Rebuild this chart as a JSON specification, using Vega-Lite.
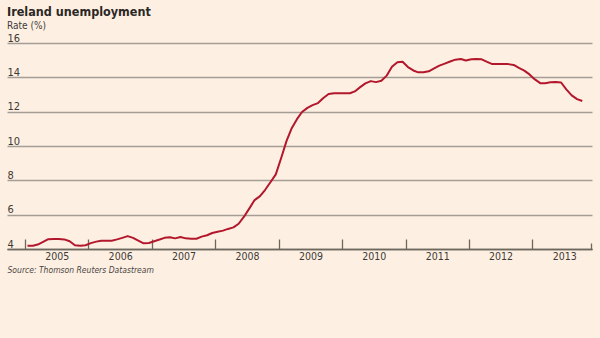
{
  "$schema": "https://vega.github.io/schema/vega-lite/v6.json",
  "width": 585,
  "height": 206,
  "autosize": {"type": "none"},
  "padding": {"left": 7, "top": 43, "right": 8, "bottom": 89},
  "background": "#fdf0e2",
  "title": {
    "text": "Ireland unemployment",
    "subtitle": "Rate (%)",
    "anchor": "start",
    "frame": "group",
    "offset": 1,
    "font": "DejaVu Sans Condensed, Liberation Sans, sans-serif",
    "fontSize": 12.5,
    "fontWeight": "bold",
    "color": "#2b2725",
    "subtitleFont": "DejaVu Sans Condensed, Liberation Sans, sans-serif",
    "subtitleFontSize": 10,
    "subtitleColor": "#3e3a37",
    "subtitlePadding": 3
  },
  "config": {
    "view": {"stroke": null},
    "axis": {"labelFont": "DejaVu Sans Condensed, Liberation Sans, sans-serif", "titleFont": "DejaVu Sans Condensed, Liberation Sans, sans-serif"}
  },
  "data": {
    "values": [
      {"date": "2005-01-15", "rate": 4.19}, {"date": "2005-02-15", "rate": 4.19}, {"date": "2005-03-15", "rate": 4.26}, {"date": "2005-04-15", "rate": 4.42},
      {"date": "2005-05-15", "rate": 4.57}, {"date": "2005-06-15", "rate": 4.58}, {"date": "2005-07-15", "rate": 4.58}, {"date": "2005-08-15", "rate": 4.56},
      {"date": "2005-09-15", "rate": 4.45}, {"date": "2005-10-15", "rate": 4.22}, {"date": "2005-11-15", "rate": 4.19}, {"date": "2005-12-15", "rate": 4.22},
      {"date": "2006-01-15", "rate": 4.34}, {"date": "2006-02-15", "rate": 4.43}, {"date": "2006-03-15", "rate": 4.48}, {"date": "2006-04-15", "rate": 4.48},
      {"date": "2006-05-15", "rate": 4.48}, {"date": "2006-06-15", "rate": 4.56}, {"date": "2006-07-15", "rate": 4.65}, {"date": "2006-08-15", "rate": 4.75},
      {"date": "2006-09-15", "rate": 4.65}, {"date": "2006-10-15", "rate": 4.49}, {"date": "2006-11-15", "rate": 4.33}, {"date": "2006-12-15", "rate": 4.35},
      {"date": "2007-01-15", "rate": 4.45}, {"date": "2007-02-15", "rate": 4.55}, {"date": "2007-03-15", "rate": 4.65}, {"date": "2007-04-15", "rate": 4.68},
      {"date": "2007-05-15", "rate": 4.62}, {"date": "2007-06-15", "rate": 4.70}, {"date": "2007-07-15", "rate": 4.62}, {"date": "2007-08-15", "rate": 4.60},
      {"date": "2007-09-15", "rate": 4.60}, {"date": "2007-10-15", "rate": 4.72}, {"date": "2007-11-15", "rate": 4.80}, {"date": "2007-12-15", "rate": 4.93},
      {"date": "2008-01-15", "rate": 5.00}, {"date": "2008-02-15", "rate": 5.07}, {"date": "2008-03-15", "rate": 5.17}, {"date": "2008-04-15", "rate": 5.26},
      {"date": "2008-05-15", "rate": 5.47}, {"date": "2008-06-15", "rate": 5.88}, {"date": "2008-07-15", "rate": 6.35}, {"date": "2008-08-15", "rate": 6.85},
      {"date": "2008-09-15", "rate": 7.08}, {"date": "2008-10-15", "rate": 7.45}, {"date": "2008-11-15", "rate": 7.90}, {"date": "2008-12-15", "rate": 8.35},
      {"date": "2009-01-15", "rate": 9.30}, {"date": "2009-02-15", "rate": 10.30}, {"date": "2009-03-15", "rate": 11.00}, {"date": "2009-04-15", "rate": 11.55},
      {"date": "2009-05-15", "rate": 11.98}, {"date": "2009-06-15", "rate": 12.22}, {"date": "2009-07-15", "rate": 12.38}, {"date": "2009-08-15", "rate": 12.50},
      {"date": "2009-09-15", "rate": 12.80}, {"date": "2009-10-15", "rate": 13.03}, {"date": "2009-11-15", "rate": 13.07}, {"date": "2009-12-15", "rate": 13.07},
      {"date": "2010-01-15", "rate": 13.07}, {"date": "2010-02-15", "rate": 13.07}, {"date": "2010-03-15", "rate": 13.18}, {"date": "2010-04-15", "rate": 13.43},
      {"date": "2010-05-15", "rate": 13.65}, {"date": "2010-06-15", "rate": 13.78}, {"date": "2010-07-15", "rate": 13.72}, {"date": "2010-08-15", "rate": 13.80},
      {"date": "2010-09-15", "rate": 14.10}, {"date": "2010-10-15", "rate": 14.62}, {"date": "2010-11-15", "rate": 14.88}, {"date": "2010-12-15", "rate": 14.91},
      {"date": "2011-01-15", "rate": 14.60}, {"date": "2011-02-15", "rate": 14.40}, {"date": "2011-03-15", "rate": 14.29}, {"date": "2011-04-15", "rate": 14.29},
      {"date": "2011-05-15", "rate": 14.35}, {"date": "2011-06-15", "rate": 14.52}, {"date": "2011-07-15", "rate": 14.68}, {"date": "2011-08-15", "rate": 14.80},
      {"date": "2011-09-15", "rate": 14.92}, {"date": "2011-10-15", "rate": 15.03}, {"date": "2011-11-15", "rate": 15.07}, {"date": "2011-12-15", "rate": 14.98},
      {"date": "2012-01-15", "rate": 15.05}, {"date": "2012-02-15", "rate": 15.07}, {"date": "2012-03-15", "rate": 15.05}, {"date": "2012-04-15", "rate": 14.90},
      {"date": "2012-05-15", "rate": 14.77}, {"date": "2012-06-15", "rate": 14.77}, {"date": "2012-07-15", "rate": 14.77}, {"date": "2012-08-15", "rate": 14.77},
      {"date": "2012-09-15", "rate": 14.72}, {"date": "2012-10-15", "rate": 14.55}, {"date": "2012-11-15", "rate": 14.39}, {"date": "2012-12-15", "rate": 14.17},
      {"date": "2013-01-15", "rate": 13.88}, {"date": "2013-02-15", "rate": 13.66}, {"date": "2013-03-15", "rate": 13.66}, {"date": "2013-04-15", "rate": 13.71},
      {"date": "2013-05-15", "rate": 13.73}, {"date": "2013-06-15", "rate": 13.70}, {"date": "2013-07-15", "rate": 13.30}, {"date": "2013-08-15", "rate": 12.95},
      {"date": "2013-09-15", "rate": 12.73}, {"date": "2013-10-15", "rate": 12.62}
    ]
  },
  "mark": {"type": "line", "color": "#b2172c", "strokeWidth": 2, "strokeJoin": "round"},
  "encoding": {
    "x": {
      "field": "date",
      "type": "temporal",
      "scale": {"domain": [{"year": 2004, "month": 9, "date": 19}, {"year": 2013, "month": 12, "date": 10}]},
      "axis": {
        "title": "Source: Thomson Reuters Datastream",
        "titleFontSize": 8.5,
        "titleFontStyle": "italic",
        "titleFontWeight": "normal",
        "titleColor": "#4a4542",
        "titleAnchor": "start",
        "titleAlign": "left",
        "titlePadding": 0,
        "values": [
          {"year": 2005, "month": 1, "date": 1}, {"year": 2006, "month": 1, "date": 1}, {"year": 2007, "month": 1, "date": 1},
          {"year": 2008, "month": 1, "date": 1}, {"year": 2009, "month": 1, "date": 1}, {"year": 2010, "month": 1, "date": 1},
          {"year": 2011, "month": 1, "date": 1}, {"year": 2012, "month": 1, "date": 1}, {"year": 2013, "month": 1, "date": 1},
          {"year": 2013, "month": 12, "date": 3}
        ],
        "labelExpr": "month(datum.value) == 0 ? timeFormat(datum.value, '%Y') : ''",
        "labelOffset": 31.7,
        "labelAlign": "center",
        "labelBaseline": "top",
        "labelFlush": false,
        "labelOverlap": false,
        "labelBound": false,
        "labelFontSize": 10.5,
        "labelColor": "#3e3a37",
        "labelPadding": 12,
        "tickSize": {"condition": {"test": "month(datum.value) == 11", "value": -6}, "value": -10},
        "tickColor": "#6e6760",
        "tickWidth": 1.3,
        "domainColor": "#6e6760",
        "domainWidth": 1.5,
        "grid": false
      }
    },
    "y": {
      "field": "rate",
      "type": "quantitative",
      "scale": {"domain": [4, 16], "nice": false, "zero": false},
      "axis": {
        "title": null,
        "values": [4, 6, 8, 10, 12, 14, 16],
        "domain": false,
        "ticks": false,
        "grid": true,
        "gridColor": {"condition": {"test": "datum.value == 4", "value": "#6e6760"}, "value": "#a39d95"},
        "gridWidth": 1.3,
        "labelAlign": "left",
        "labelBaseline": "alphabetic",
        "labelPadding": 0,
        "labelOffset": -2,
        "labelFontSize": 11,
        "labelColor": "#3e3a37"
      }
    }
  }
}
